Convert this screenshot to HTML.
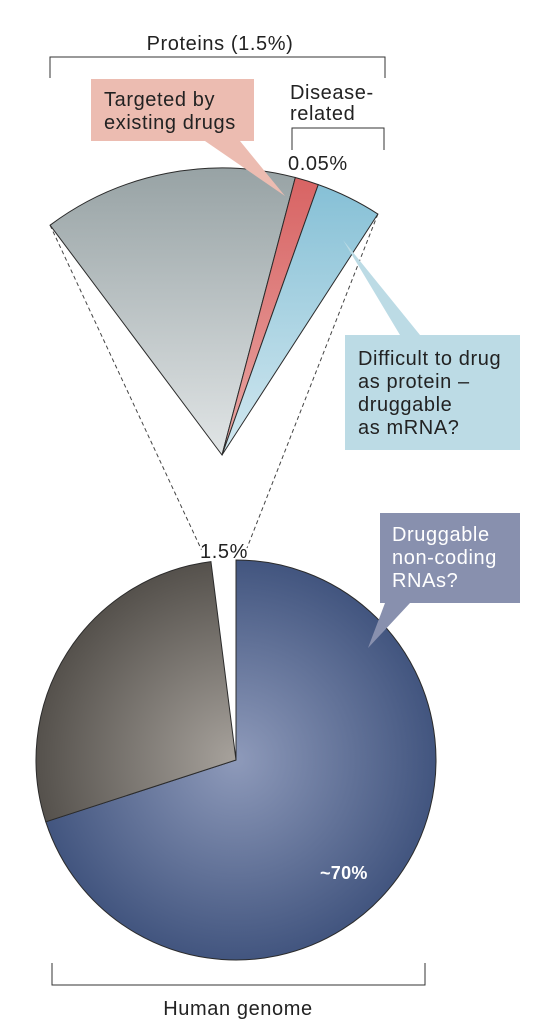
<!DOCTYPE html>
<html><head><meta charset="utf-8"><style>
html,body{margin:0;padding:0;background:#fff}
svg{display:block}
text{font-family:"Liberation Sans",sans-serif;fill:#222;font-size:20px;letter-spacing:0.6px}
</style></head><body>
<svg id="chart" width="546" height="1034" viewBox="0 0 546 1034">
<defs>
<radialGradient id="gBlue" cx="236" cy="760" r="200" gradientUnits="userSpaceOnUse"><stop offset="0" stop-color="#8e9aba"/><stop offset="1" stop-color="#42557f"/></radialGradient>
<radialGradient id="gGray" cx="236" cy="760" r="200" gradientUnits="userSpaceOnUse"><stop offset="0" stop-color="#a7a29c"/><stop offset="1" stop-color="#55514c"/></radialGradient>
<linearGradient id="fGray" x1="0" y1="170" x2="0" y2="455" gradientUnits="userSpaceOnUse"><stop offset="0" stop-color="#98a3a5"/><stop offset="1" stop-color="#e1e5e6"/></linearGradient>
<linearGradient id="fBlue" x1="0" y1="185" x2="0" y2="455" gradientUnits="userSpaceOnUse"><stop offset="0" stop-color="#86c0d6"/><stop offset="1" stop-color="#d2e8f0"/></linearGradient>
<linearGradient id="fRed" x1="0" y1="180" x2="0" y2="455" gradientUnits="userSpaceOnUse"><stop offset="0" stop-color="#d86464"/><stop offset="1" stop-color="#e9a7a4"/></linearGradient>
</defs>
<g id="lines"></g>
<g id="pie"></g>
<g id="fan"></g>
<g id="annot">
<text x="220" y="50" text-anchor="middle">Proteins (1.5%)</text>
<path d="M50 78V57H385V78" fill="none" stroke="#333" stroke-width="1"/>
<text x="290" y="99"><tspan x="290">Disease-</tspan><tspan x="290" dy="21">related</tspan></text>
<path d="M292 150V128H384V150" fill="none" stroke="#333" stroke-width="1"/>
<text x="288" y="170">0.05%</text>
<g>
<path d="M91 79H254V141H240L285 196L205 141H91Z" fill="#ecbcb1"/>
<text x="104" y="106"><tspan x="104">Targeted by</tspan><tspan x="104" dy="23">existing drugs</tspan></text>
</g>
<g>
<path d="M345 335H400L343 240L420 335H520V450H345Z" fill="#bcdbe5"/>
<text x="358" y="365"><tspan x="358">Difficult to drug</tspan><tspan x="358" dy="23">as protein –</tspan><tspan x="358" dy="23">druggable</tspan><tspan x="358" dy="23">as mRNA?</tspan></text>
</g>
<g>
<path d="M380 513H520V603H410L368 648L385 603H380Z" fill="#8890ae"/>
<text x="392" y="541" style="fill:#fff"><tspan x="392">Druggable</tspan><tspan x="392" dy="23">non-coding</tspan><tspan x="392" dy="23">RNAs?</tspan></text>
</g>
<text x="200" y="558">1.5%</text>
<text x="320" y="879" font-weight="bold" style="fill:#fff;font-size:18px;letter-spacing:0.3px">~70%</text>
<path d="M52 963V985H425V963" fill="none" stroke="#333" stroke-width="1"/>
<text x="238" y="1015" text-anchor="middle">Human genome</text>
</g>
</svg>
<script>
const pieCategories = ["non-coding", "other", "protein-coding"];
const pieValues = [70, 28, 2];
const fanCategories = ["other-proteins", "targeted-by-drugs", "difficult-to-drug"];
const fanValues = [51.6, 4.8, 13.3];

const NS = "http://www.w3.org/2000/svg";
function pt(cx, cy, r, deg){const a = deg*Math.PI/180; return [cx + r*Math.sin(a), cy - r*Math.cos(a)];}
function arc(cx, cy, r, a0, a1){
  const p0 = pt(cx,cy,r,a0), p1 = pt(cx,cy,r,a1);
  const large = (a1-a0) > 180 ? 1 : 0;
  return `M${cx} ${cy}L${p0[0]} ${p0[1]}A${r} ${r} 0 ${large} 1 ${p1[0]} ${p1[1]}Z`;
}
const PCX = 236, PCY = 760, PR = 200;
const pieTotal = pieValues.reduce((a,b)=>a+b,0);
const pieFills = ["url(#gBlue)", "url(#gGray)", "none"];
const pieG = document.getElementById("pie");
let acc = 0;
pieValues.forEach((v,i)=>{
  const a0 = acc/pieTotal*360, a1 = (acc+v)/pieTotal*360; acc += v;
  if (pieFills[i] === "none") return;
  const p = document.createElementNS(NS, "path");
  p.setAttribute("d", arc(PCX,PCY,PR,a0,a1));
  p.setAttribute("fill", pieFills[i]);
  p.setAttribute("stroke", "#2b2b2b");
  p.setAttribute("stroke-width", "1");
  
  
  pieG.appendChild(p);
});
const FCX = 222, FCY = 455, FR = 287, FSTART = -36.8;
const fanFills = ["url(#fGray)", "url(#fRed)", "url(#fBlue)"];
const fanG = document.getElementById("fan");
let fa = FSTART;
fanValues.forEach((v,i)=>{
  const a0 = fa, a1 = fa + v; fa = a1;
  const p = document.createElementNS(NS, "path");
  p.setAttribute("d", arc(FCX,FCY,FR,a0,a1));
  p.setAttribute("fill", fanFills[i]);
  p.setAttribute("stroke", "#2b2b2b");
  p.setAttribute("stroke-width", "1");
  
  
  fanG.appendChild(p);
});
const lg = document.getElementById("lines");
const fl = pt(FCX,FCY,FR,FSTART), fr = pt(FCX,FCY,FR,fa);
const gapStart = (pieValues[0]+pieValues[1])/pieTotal*360;
const pl = pt(PCX,PCY,PR+12,gapStart), pr = pt(PCX,PCY,PR+12,360);
[[fl,[pl[0]-8,pl[1]],'left'],[fr,[pr[0]+11,pr[1]],'right']].forEach(([a,b,s])=>{
  const l = document.createElementNS(NS,"line");
  l.setAttribute("x1",a[0]);l.setAttribute("y1",a[1]);l.setAttribute("x2",b[0]);l.setAttribute("y2",b[1]);
  l.setAttribute("stroke","#444");l.setAttribute("stroke-dasharray","4 3");l.setAttribute("stroke-width","1");
  
  
  lg.appendChild(l);
});
</script>
</body></html>
